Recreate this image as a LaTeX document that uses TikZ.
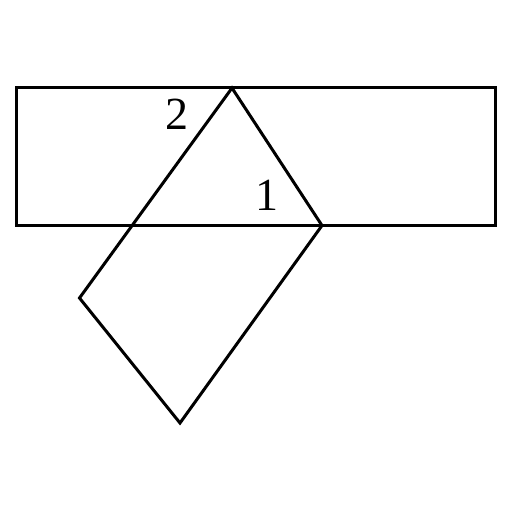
\documentclass[tikz,border=0pt]{standalone}
\usepackage{fontspec}
\setmainfont{Liberation Serif}
\begin{document}
\begin{tikzpicture}[x=1pt,y=-1pt,line width=3pt,line join=miter,
  lbl/.style={font=\fontsize{46}{46}\selectfont,inner sep=0pt}]
\useasboundingbox (0,0) rectangle (512,512);
\coordinate (A) at (16.5,87.5);
\coordinate (B) at (495,87.5);
\coordinate (C) at (495,225.5);
\coordinate (D) at (16.5,225.5);
\coordinate (T) at (232,88);
\coordinate (R) at (322,225.5);
\coordinate (S) at (180,423);
\coordinate (L) at (79.5,298);
\draw (A) -- (B) -- (C) -- (D) -- cycle;
\draw (L) -- (T) -- (R) -- (S) -- cycle;
\node[lbl] (n2) at (176.5,114) {2};
\node[lbl] (n1) at (267,195) {1};
\end{tikzpicture}
\end{document}
